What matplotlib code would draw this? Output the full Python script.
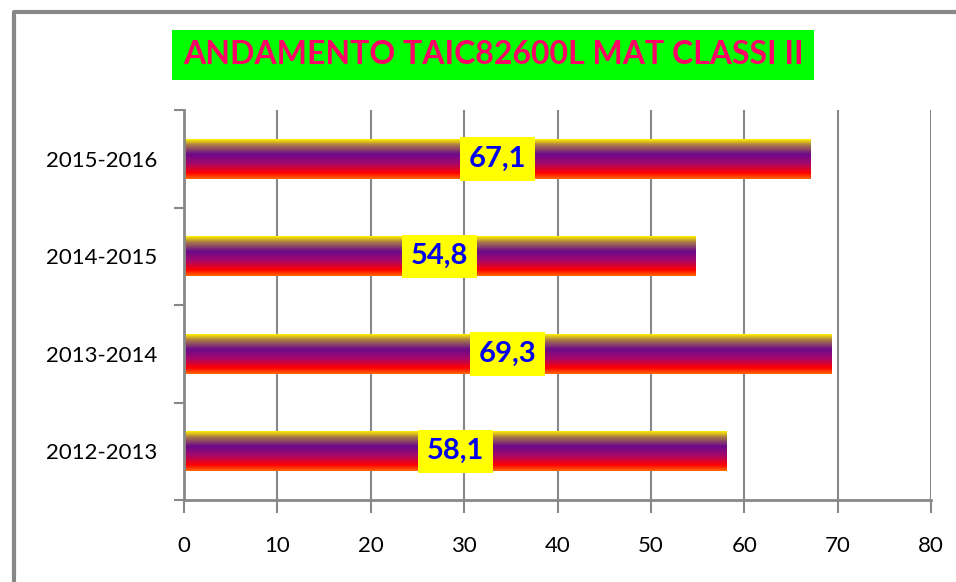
import numpy as np
import matplotlib.pyplot as plt
from matplotlib.colors import LinearSegmentedColormap
from matplotlib.lines import Line2D

# data
years = ["2012-2013", "2013-2014", "2014-2015", "2015-2016"]
values = [58.1, 69.3, 54.8, 67.1]
title = "ANDAMENTO TAIC82600L MAT CLASSI II"

plt.rcParams['font.family'] = ['Lato', 'DejaVu Sans']

# gradient used to fill the bars (top -> bottom)
bar_cmap = LinearSegmentedColormap.from_list("bars", [
    (0.00, "#FFF000"),
    (0.15, "#A87848"),
    (0.38, "#6A0A8A"),
    (0.62, "#A8086A"),
    (0.85, "#FF0000"),
    (1.00, "#FF6A00"),
])

fig = plt.figure(figsize=(9.56, 5.82), dpi=100)
ax = fig.add_axes([184/956, 1 - 500/582, (931 - 184)/956, (500 - 110)/582])

grad = np.linspace(0, 1, 200).reshape(-1, 1)
bar_h = 0.41
for i, v in enumerate(values):
    ax.imshow(grad, extent=[0, v, i - bar_h/2, i + bar_h/2], origin='upper',
              aspect='auto', cmap=bar_cmap, zorder=2, interpolation='bilinear')
    ax.text(v/2, i, f"{v:.1f}".replace(".", ","), ha='center', va='center',
            fontsize=21, fontweight='bold', color='#0000EE', zorder=3,
            bbox=dict(boxstyle='square,pad=0.3', fc='#FFFF00', ec='none'))

ax.set_xlim(0, 80)
ax.set_ylim(-0.5, 3.5)
ax.set_xticks(np.arange(0, 81, 10))
ax.set_yticks(range(len(years)))
ax.set_yticklabels(years)
ax.set_yticks(np.arange(-0.5, 3.6, 1), minor=True)
ax.tick_params(axis='y', which='major', length=0, pad=19, labelsize=16)
ax.tick_params(axis='y', which='minor', length=7, width=1.5, color='#888888')
ax.tick_params(axis='x', length=9, width=1.5, color='#888888', pad=17, labelsize=16)
ax.grid(axis='x', color='#888888', lw=1.5, zorder=1)
ax.set_axisbelow(True)
for s in ['top', 'right']:
    ax.spines[s].set_visible(False)
for s in ['left', 'bottom']:
    ax.spines[s].set_color('#888888')
    ax.spines[s].set_linewidth(2)

fig.text(493/956, 1 - 55/582, title, ha='center', va='center', fontsize=23,
         fontweight='bold', color='#FF0066',
         bbox=dict(boxstyle='square,pad=0.33', fc='#00FF00', ec='none'))

# outer chart border (left and top)
fig.add_artist(Line2D([14/956, 14/956, 1], [0, 1 - 12/582, 1 - 12/582],
                      transform=fig.transFigure, color='#888888', lw=3))

fig.savefig("out.png", dpi=100)
